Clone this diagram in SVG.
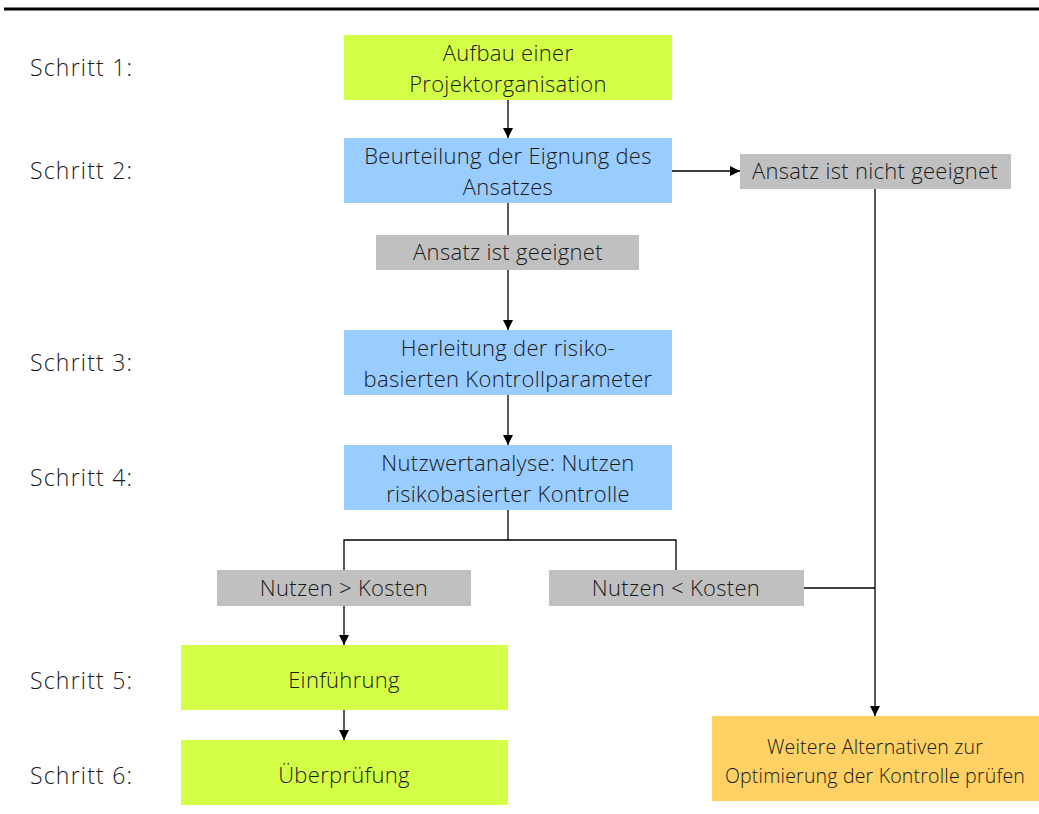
<svg xmlns="http://www.w3.org/2000/svg" width="1039" height="814" viewBox="0 0 1039 814">
<style>
text{font-family:"Open Sans",Lato,"Liberation Sans",sans-serif;font-weight:300;fill:#1a1a1a;font-size:22px;letter-spacing:0.3px}
.lbl{font-size:23px;letter-spacing:1.2px}
.c{text-anchor:middle}
.sm{font-size:19.5px;letter-spacing:0.2px}
.green{fill:#D4FF47}
.blue{fill:#99CCFF}
.gray{fill:#C0C0C0}
.orange{fill:#FDD163}
.ln{stroke:#000;stroke-width:1.3;fill:none}
</style>
<defs>
<marker id="ah" viewBox="0 0 10 10" refX="10" refY="5" markerWidth="10" markerHeight="10" markerUnits="userSpaceOnUse" orient="auto">
<path d="M0,0 L10,5 L0,10 z" fill="#000"/>
</marker>
</defs>
<rect x="4" y="7.5" width="1035" height="3" fill="#000"/>
<g id="labels">
<text class="lbl" x="30" y="76">Schritt 1:</text>
<text class="lbl" x="30" y="179">Schritt 2:</text>
<text class="lbl" x="30" y="371">Schritt 3:</text>
<text class="lbl" x="30" y="486">Schritt 4:</text>
<text class="lbl" x="30" y="689">Schritt 5:</text>
<text class="lbl" x="30" y="784">Schritt 6:</text>
</g>
<g id="connectors">
<line class="ln" x1="508" y1="100" x2="508" y2="138" marker-end="url(#ah)"/>
<line class="ln" x1="672" y1="171" x2="740" y2="171" marker-end="url(#ah)"/>
<line class="ln" x1="508" y1="203" x2="508" y2="235"/>
<line class="ln" x1="508" y1="270" x2="508" y2="330" marker-end="url(#ah)"/>
<line class="ln" x1="508" y1="395" x2="508" y2="445" marker-end="url(#ah)"/>
<polyline class="ln" points="508,510 508,540"/>
<polyline class="ln" points="344,570 344,540 676,540 676,570"/>
<line class="ln" x1="344" y1="606" x2="344" y2="645" marker-end="url(#ah)"/>
<line class="ln" x1="344" y1="710" x2="344" y2="740" marker-end="url(#ah)"/>
<line class="ln" x1="804" y1="588" x2="875" y2="588"/>
<line class="ln" x1="875" y1="189" x2="875" y2="716" marker-end="url(#ah)"/>
</g>
<g id="n1"><rect class="green" x="344" y="35" width="328" height="65"/>
<text class="c" x="508" y="61">Aufbau einer</text><text class="c" x="508" y="92">Projektorganisation</text></g>
<g id="n2"><rect class="blue" x="344" y="138" width="328" height="65"/>
<text class="c" x="508" y="164">Beurteilung der Eignung des</text><text class="c" x="508" y="195">Ansatzes</text></g>
<g id="n2b"><rect class="gray" x="740" y="154" width="271" height="35"/>
<text class="c" x="875" y="179">Ansatz ist nicht geeignet</text></g>
<g id="n2a"><rect class="gray" x="376" y="235" width="263" height="35"/>
<text class="c" x="508" y="260">Ansatz ist geeignet</text></g>
<g id="n3"><rect class="blue" x="344" y="330" width="328" height="65"/>
<text class="c" x="508" y="356">Herleitung der risiko-</text><text class="c" x="508" y="387">basierten Kontrollparameter</text></g>
<g id="n4"><rect class="blue" x="344" y="445" width="328" height="65"/>
<text class="c" x="508" y="471">Nutzwertanalyse: Nutzen</text><text class="c" x="508" y="502">risikobasierter Kontrolle</text></g>
<g id="n4a"><rect class="gray" x="217" y="570" width="254" height="36"/>
<text class="c" x="344" y="596">Nutzen &gt; Kosten</text></g>
<g id="n4b"><rect class="gray" x="549" y="570" width="255" height="36"/>
<text class="c" x="676" y="596">Nutzen &lt; Kosten</text></g>
<g id="n5"><rect class="green" x="181" y="645" width="327" height="65"/>
<text class="c" x="344" y="688">Einführung</text></g>
<g id="n6"><rect class="green" x="181" y="740" width="327" height="65"/>
<text class="c" x="344" y="783">Überprüfung</text></g>
<g id="n7"><rect class="orange" x="712" y="716" width="327" height="85"/>
<text class="c sm" x="875" y="754">Weitere Alternativen zur</text><text class="c sm" x="875" y="783">Optimierung der Kontrolle prüfen</text></g>
</svg>
